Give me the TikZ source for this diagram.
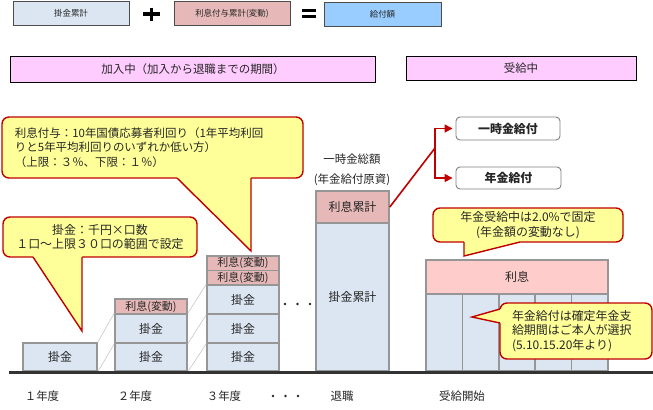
\documentclass[tikz,border=0pt]{standalone}
\usepackage{fontspec}
\setmainfont{Noto Sans CJK JP}
\usepackage{tikz}
\usetikzlibrary{arrows.meta,positioning}
\definecolor{kakeBlue}{HTML}{DCE6F2}
\definecolor{riekiPink}{HTML}{E6B9B8}
\definecolor{payBlue}{HTML}{99CCFF}
\definecolor{phasePink}{HTML}{FFCCFF}
\definecolor{poolPink}{HTML}{FFCCCC}
\definecolor{noteYellow}{HTML}{FFFF99}
\definecolor{noteRed}{HTML}{C00000}
\definecolor{barGray}{HTML}{969696}
\definecolor{inkGray}{HTML}{262626}

\begin{document}
\begin{tikzpicture}[x=1bp,y=-1bp,>={Triangle[length=8bp,width=8bp]},
    every node/.style={text=inkGray},
    sumbox/.style={draw=black!70,line width=0.9bp,minimum width=116bp,
      minimum height=24bp,inner sep=0pt,font=\fontsize{8.5}{10}\selectfont},
    phase/.style={draw=black,line width=1bp,fill=phasePink,inner sep=0pt,
      font=\fontsize{11.5}{14}\selectfont},
    kake/.style={draw=barGray,line width=1.6bp,fill=kakeBlue,inner sep=0pt,
      font=\fontsize{12}{14}\selectfont},
    rieki/.style={draw=barGray,line width=1.6bp,fill=riekiPink,inner sep=0pt,
      font=\fontsize{11}{13}\selectfont},
    note/.style={draw=noteRed,line width=1.4bp,fill=noteYellow,
      rounded corners=7bp,inner sep=0pt,font=\fontsize{12}{14.7}\selectfont},
    tail/.style={draw=noteRed,line width=1.4bp,line join=miter},
    guide/.style={draw=black!22,line width=0.6bp},
    branch/.style={draw=noteRed,line width=1.6bp},
    payout/.style={draw=black!50,line width=0.9bp,rounded corners=4bp,
      fill=white,inner sep=0pt,font=\fontsize{12}{14}\selectfont\bfseries},
    label/.style={font=\fontsize{11.5}{14}\selectfont}]
  \useasboundingbox (0,0) rectangle (653,409);

  % legend row
  \node[sumbox,fill=kakeBlue] (legKake) at (71,13) {掛金累計};
  \node[sumbox,fill=riekiPink] (legRieki) at (232,13.5) {利息付与累計(変動)};
  \node[sumbox,fill=payBlue,minimum width=117bp] (legPay) at (382.5,14) {給付額};
  \draw[line width=3.5bp] (143,14)--(160,14) (151.5,7.5)--(151.5,20.5);
  \draw[line width=2.6bp] (302,10.5)--(316,10.5) (302,16.5)--(316,16.5);

  % phases
  \node[phase,minimum width=364bp,minimum height=26bp] (kanyu) at (193,69)
    {加入中（加入から退職までの期間）};
  \node[phase,minimum width=230bp,minimum height=24bp] (jukyu) at (521,68)
    {受給中};

  % contribution stacks
  \node[kake,minimum width=74bp,minimum height=28bp] (y1a) at (60,357) {掛金};

  \node[kake,minimum width=72bp,minimum height=28bp] (y2a) at (151,357) {掛金};
  \node[kake,minimum width=72bp,minimum height=29bp] (y2b) at (151,328.5) {掛金};
  \node[rieki,minimum width=72bp,minimum height=15bp] (y2r) at (151,306.5) {利息(変動)};

  \node[kake,minimum width=72bp,minimum height=28bp] (y3a) at (243,357) {掛金};
  \node[kake,minimum width=72bp,minimum height=29bp] (y3b) at (243,328.5) {掛金};
  \node[kake,minimum width=72bp,minimum height=29bp] (y3c) at (243,299.5) {掛金};
  \node[rieki,minimum width=72bp,minimum height=14.5bp] (y3r1) at (243,277.75) {利息(変動)};
  \node[rieki,minimum width=72bp,minimum height=14.5bp] (y3r2) at (243,263.25) {利息(変動)};

  \draw[guide] (y1a.north east)--(y2b.north west);
  \draw[guide] (y1a.south east)--(y2b.south west);
  \draw[guide] (y2b.north east)--(y3c.north west);
  \draw[guide] (y2b.south east)--(y3c.south west);
  \draw[guide] (y2a.south east)--(y3b.south west);

  \foreach \x in {285,297.5,310}
    \fill[inkGray] (\x,304) circle (1.3bp);

  % retirement
  \node[label] (sogaku) at (352,159) {一時金総額};
  \node[label] (genshi) at (352,180) {(年金給付原資)};
  \node[rieki,font=\fontsize{12}{14}\selectfont,minimum width=73bp,
    minimum height=32bp] (riekiSum) at (352.5,207) {利息累計};
  \node[kake,minimum width=73bp,minimum height=148bp] (kakeSum) at (352.5,297)
    {掛金累計};

  % payout choice
  \node[payout,minimum width=104bp,minimum height=23bp] (lump) at (508,128.5)
    {一時金給付};
  \node[payout,minimum width=105bp,minimum height=22bp] (annuity) at (508.5,178)
    {年金給付};
  \coordinate (fork) at (435,148);
  \draw[branch] (riekiSum.east)--(fork);
  \draw[branch,->,shorten >=3bp] (fork)|-(lump.west);
  \draw[branch,->,shorten >=3bp] (fork)|-(annuity.west);

  % pension period
  \node[draw=barGray,line width=1.6bp,fill=poolPink,inner sep=0pt,
    minimum width=182bp,minimum height=34bp,font=\fontsize{12}{14}\selectfont]
    (pool) at (517,277) {利息};
  \foreach \i in {0,...,4}
    \node[kake,minimum width=36.4bp,minimum height=77bp] (col\i)
      at (444.2+36.4*\i,332.5) {};

  % ground line
  \draw[line width=2.6bp,black!80] (9,372.5)--(653,372.5);

  % notes
  \node[note,font=\fontsize{11.5}{14.5}\selectfont,minimum width=301bp,
    minimum height=61bp,text width=275bp,align=left] (note1) at (152.5,147.5)
    {利息付与：10年国債応募者利回り（1年平均利回\\
     りと5年平均利回りのいずれか低い方）\\
     （上限：３％、下限：１％）};
  \fill[noteYellow] (177,174)--(177,178)--(251,251)--(251,174)--cycle;
  \draw[tail] (177,178)--(251,251)--(251,178);

  \node[note,minimum width=194bp,minimum height=40bp,align=center] (note2)
    at (100,237) {掛金：千円×口数\\１口〜上限３０口の範囲で設定};
  \fill[noteYellow] (33,253)--(33,257)--(82,331)--(82,253)--cycle;
  \draw[tail] (33,257)--(82,331)--(82,257);

  \node[note,minimum width=190bp,minimum height=34bp,align=center] (note3)
    at (528,225) {年金受給中は2.0\%で固定\\(年金額の変動なし)};
  \fill[noteYellow] (464,238)--(464,242)--(464,256)--(520,242)--(520,238)--cycle;
  \draw[tail] (464,242)--(464,256)--(520,242);

  \node[note,minimum width=152bp,minimum height=56bp,text width=128bp,
    align=left] (note4) at (576,331)
    {年金給付は確定年金支\\給期間はご本人が選択\\(5.10.15.20年より)};
  \fill[noteYellow] (504,309)--(500,309)--(472,317)--(500,323)--(504,323)--cycle;
  \draw[tail] (500,309)--(472,317)--(500,323);

  % axis labels
  \node[label] (nendo1) at (42,396) {１年度};
  \node[label] (nendo2) at (135,396) {２年度};
  \node[label] (nendo3) at (224,396) {３年度};
  \foreach \x in {273,285.5,298}
    \fill[inkGray] (\x,396) circle (1.3bp);
  \node[label] (taishoku) at (342,396) {退職};
  \node[label] (kaishi) at (462,396) {受給開始};
\end{tikzpicture}
\end{document}
